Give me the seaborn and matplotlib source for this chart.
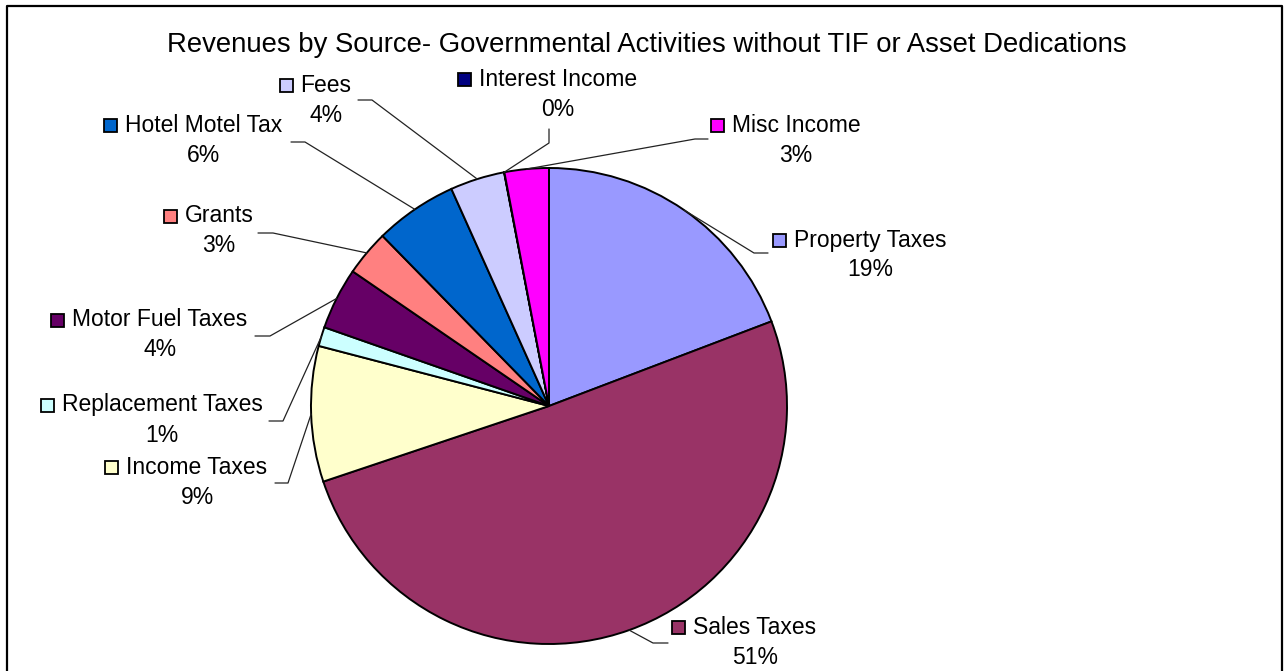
import numpy as np
import matplotlib
matplotlib.use("Agg")
import matplotlib.pyplot as plt
import seaborn as sns
from matplotlib.patches import Rectangle

# revenue sources, clockwise from 12 o'clock
sources = ["Property Taxes", "Sales Taxes", "Income Taxes", "Replacement Taxes",
           "Motor Fuel Taxes", "Grants", "Hotel Motel Tax", "Fees",
           "Interest Income", "Misc Income"]
shares = [19.2, 50.6, 9.2, 1.3, 4.2, 3.1, 5.6, 3.7, 0.02, 3.0]
colors = ["#9999FF", "#993366", "#FFFFCC", "#CCFFFF", "#660066",
          "#FF8080", "#0066CC", "#CCCCFF", "#000080", "#FF00FF"]

# layout (pixels, measured from the top-left corner)
W, H = 1284, 671
label_pos = [(870, 240), (755, 627), (197, 467), (162, 405), (160, 320),
             (219, 216), (204, 125), (326, 85), (558, 79), (796, 125)]
leader_knee = [(754, 253), (653, 643), (288, 483), (283, 421), (270, 336),
               (273, 233), (305, 142), (372, 100), (549, 143), (695, 139)]
leader_end = [(768, 253), (668, 643), (275, 483), (269, 421), (255, 336),
              (258, 233), (291, 142), (358, 100), (549, 129), (708, 139)]

sns.set_style("white")
plt.rcParams["font.family"] = ["Liberation Sans", "DejaVu Sans"]
plt.rcParams["text.color"] = "black"

fig = plt.figure(figsize=(W / 100, H / 100), dpi=100)
ax = fig.add_axes([0, 0, 1, 1])

cx, cy, r = 549, H - 406, 238
wedges, _ = ax.pie(shares, colors=colors, startangle=90, counterclock=False,
                   center=(cx, cy), radius=r,
                   wedgeprops=dict(edgecolor="black", linewidth=1.4))
ax.set_xlim(0, W)
ax.set_ylim(0, H)
ax.set_aspect("equal")
ax.axis("off")

total = sum(shares)
fig.canvas.draw()
renderer = fig.canvas.get_renderer()
for w, name, val, (lx, ly), (kx, ky), (ex, ey) in zip(
        wedges, sources, shares, label_pos, leader_knee, leader_end):
    mid = np.deg2rad((w.theta1 + w.theta2) / 2)
    px, py = cx + r * np.cos(mid), cy + r * np.sin(mid)
    ax.plot([px, kx, ex], [py, H - ky, H - ey], color="#222222", lw=0.9)
    t = ax.text(lx, H - ly, name, ha="center", va="center", fontsize=16.5)
    ax.text(lx, H - ly - 30, f"{100 * val / total:.0f}%", ha="center",
            va="center", fontsize=16.5)
    bb = t.get_window_extent(renderer)
    ax.add_patch(Rectangle((bb.x0 - 21, H - ly - 7), 13, 13,
                           facecolor=w.get_facecolor(), edgecolor="black", lw=1.3))

ax.text(647, H - 45, "Revenues by Source- Governmental Activities without TIF or Asset Dedications",
        ha="center", va="center", fontsize=19.8)

# chart frame (bottom edge falls outside the picture)
ax.plot([7, 7, 1282, 1282], [-5, H - 6, H - 6, -5], color="black", lw=1.6,
        clip_on=False)

fig.savefig("out.png", dpi=100)
